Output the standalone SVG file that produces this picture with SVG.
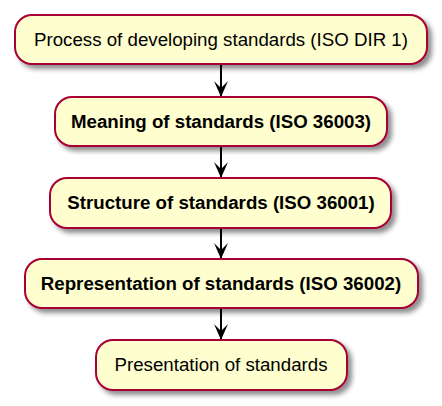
<svg xmlns="http://www.w3.org/2000/svg" width="442" height="406" viewBox="0 0 442 406">
<defs>
<filter id="sh" x="-10%" y="-20%" width="130%" height="160%">
<feGaussianBlur in="SourceAlpha" stdDeviation="2.5"/>
<feOffset dx="4" dy="4" result="b"/>
<feComponentTransfer><feFuncA type="linear" slope="0.45"/></feComponentTransfer>
<feMerge><feMergeNode/><feMergeNode in="SourceGraphic"/></feMerge>
</filter>
<marker id="ah" viewBox="0 0 16 14" refX="16" refY="7" markerWidth="16" markerHeight="14" markerUnits="userSpaceOnUse" orient="auto">
<path d="M0,0 L16,7 L0,14 L7,7 Z" fill="#000"/>
</marker>
</defs>
<style>
.n rect{fill:#FEFECE;stroke:#A80036;stroke-width:2;filter:url(#sh)}
.n text{font-family:"Liberation Sans",Arial,sans-serif;font-size:18.7px;fill:#000;text-anchor:middle}
.b text{font-weight:bold}
.c line{stroke:#000;stroke-width:2}
</style>
<g class="c" id="connectors">
<line x1="221" y1="64" x2="221" y2="97" marker-end="url(#ah)"/>
<line x1="221" y1="146" x2="221" y2="178" marker-end="url(#ah)"/>
<line x1="221" y1="228" x2="221" y2="259" marker-end="url(#ah)"/>
<line x1="221" y1="308" x2="221" y2="340" marker-end="url(#ah)"/>
</g>
<g class="n" id="n1"><rect x="15" y="15" width="412" height="49" rx="17"/><text x="221" y="46">Process of developing standards (ISO DIR 1)</text></g>
<g class="n b" id="n2"><rect x="55" y="97" width="332" height="49" rx="17"/><text x="221" y="128">Meaning of standards (ISO 36003)</text></g>
<g class="n b" id="n3"><rect x="50" y="178" width="341" height="50" rx="17"/><text x="221" y="209">Structure of standards (ISO 36001)</text></g>
<g class="n b" id="n4"><rect x="25" y="259" width="393" height="49" rx="17"/><text x="221" y="290">Representation of standards (ISO 36002)</text></g>
<g class="n" id="n5"><rect x="96" y="340" width="251" height="50" rx="17"/><text x="221" y="371">Presentation of standards</text></g>
</svg>
